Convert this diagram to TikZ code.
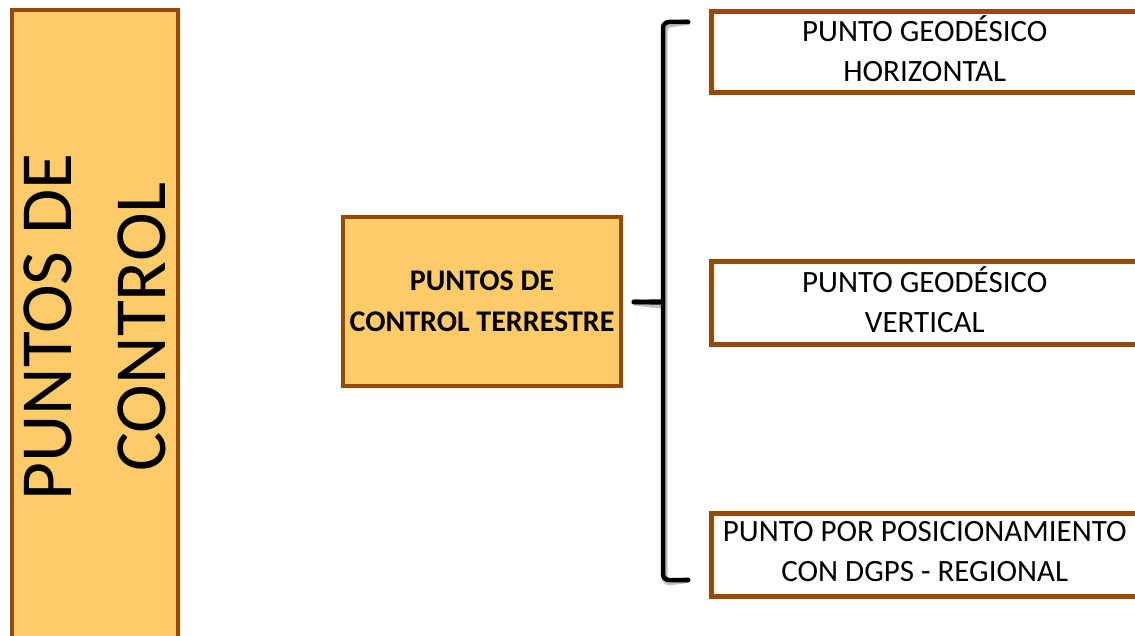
\documentclass[tikz,border=0pt]{standalone}
\usepackage{fontspec}
\setmainfont{Carlito}
\definecolor{boxfill}{HTML}{FECB69}
\definecolor{boxline}{HTML}{984807}
\tikzset{
  orangebox/.style={draw=boxline, fill=boxfill, line width=4pt, inner sep=0pt, align=center},
  whitebox/.style={draw=boxline, fill=white, line width=4.5pt, inner sep=0pt},
  boxtext/.style={font=\fontsize{31}{40}\selectfont, align=center, inner sep=0pt, yshift=3.5pt},
  bracestyle/.style={line width=4.5pt, line cap=round, line join=round, rounded corners=6pt},
  braceshadow/.style={bracestyle, draw=black!25, line width=6pt}
}
\begin{document}
\begin{tikzpicture}[x=1pt,y=-1pt]
\useasboundingbox (0,0) rectangle (1135,636);
\clip (0,0) rectangle (1135,636);
% left tall box
\node[orangebox, rotate=90, minimum width=634pt, minimum height=166pt,
      font=\fontsize{73.5}{94}\selectfont] (side) at (95,327) {PUNTOS DE\\CONTROL};
% center box
\node[orangebox, minimum width=278pt, minimum height=169pt,
      font=\bfseries\fontsize{30}{41}\selectfont] (main) at (482,301.5) {PUNTOS DE\\CONTROL TERRESTRE};
% right boxes
\node[whitebox, minimum width=426.5pt, minimum height=81pt,
      label={[boxtext]center:PUNTO GEODÉSICO\\HORIZONTAL}] (h) at (924.75,52) {};
\node[whitebox, minimum width=426.5pt, minimum height=83pt,
      label={[boxtext]center:PUNTO GEODÉSICO\\VERTICAL}] (v) at (924.75,303) {};
\node[whitebox, minimum width=426.5pt, minimum height=83pt,
      label={[boxtext]center:PUNTO POR POSICIONAMIENTO\\CON DGPS - REGIONAL}] (g) at (924.75,555) {};
% brace
\coordinate (btop) at (688,22);
\coordinate (bmid) at (634,302);
\coordinate (bbot) at (688,580);
\begin{scope}[shift={(1.5,3)}]
\draw[braceshadow] (btop) -- (663,22) -- (663,296) .. controls (663,301) and (650,302) .. (bmid);
\draw[braceshadow] (bmid) .. controls (650,302) and (663,303) .. (663,308) -- (663,580) -- (bbot);
\end{scope}
\draw[bracestyle] (btop) -- (663,22) -- (663,296) .. controls (663,301) and (650,302) .. (bmid);
\draw[bracestyle] (bmid) .. controls (650,302) and (663,303) .. (663,308) -- (663,580) -- (bbot);
\end{tikzpicture}
\end{document}
